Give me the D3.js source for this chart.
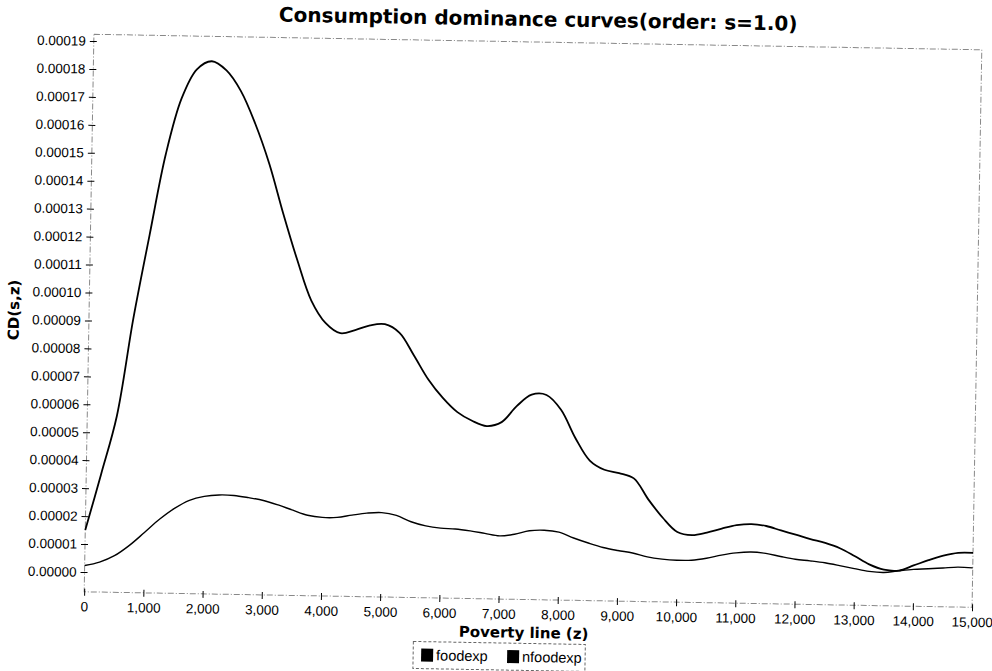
<!DOCTYPE html>
<html>
<head>
<meta charset="utf-8">
<script src="https://cdn.jsdelivr.net/npm/d3@7"></script>
<style>
  body { margin: 0; background: #fff; }
  svg { display: block; }
</style>
</head>
<body>
<div id="chart"></div>
<script>
// poverty line z (x axis)
var povertyLine = [
  0, 250, 500, 750, 1000, 1250, 1500, 1750, 2000, 2250, 2500, 2750, 3000, 3250, 3500, 3750,
  4000, 4250, 4500, 4750, 5000, 5250, 5500, 5750, 6000, 6250, 6500, 6750, 7000, 7250, 7500, 7750,
  8000, 8250, 8500, 8750, 9000, 9250, 9500, 9750, 10000, 10250, 10500, 10750, 11000, 11250, 11500, 11750,
  12000, 12250, 12500, 12750, 13000, 13250, 13500, 13750, 14000, 14250, 14500, 14750, 15000
];
// CD(s,z) values, in units of 0.00001
var foodexp = [
  1.5, 3.5, 5.6, 9.1, 12.1, 15.0, 17.0, 18.05, 18.35, 18.03, 17.3, 16.15, 14.72, 12.95, 11.3, 9.85,
  9.05, 8.7, 8.82, 9.0, 9.05, 8.75, 7.95, 7.1, 6.45, 5.95, 5.65, 5.47, 5.62, 6.2, 6.62, 6.62,
  6.1, 5.1, 4.3, 3.98, 3.87, 3.69, 2.95, 2.3, 1.8, 1.7, 1.8, 1.95, 2.08, 2.13, 2.07, 1.92,
  1.78, 1.63, 1.5, 1.32, 1.05, 0.76, 0.58, 0.56, 0.75, 0.95, 1.12, 1.23, 1.24
];
var nfoodexp = [
  0.23, 0.36, 0.6, 0.98, 1.45, 1.93, 2.33, 2.63, 2.78, 2.84, 2.83, 2.76, 2.67, 2.52, 2.34, 2.17,
  2.1, 2.11, 2.2, 2.28, 2.31, 2.22, 2.0, 1.86, 1.79, 1.77, 1.71, 1.63, 1.55, 1.62, 1.75, 1.78,
  1.72, 1.52, 1.35, 1.2, 1.1, 1.02, 0.89, 0.82, 0.79, 0.8, 0.88, 1.0, 1.09, 1.13, 1.09, 0.99,
  0.9, 0.85, 0.79, 0.7, 0.6, 0.51, 0.48, 0.55, 0.61, 0.64, 0.68, 0.72, 0.7
];
var seriesNames = ["foodexp", "nfoodexp"];
var yTicks = [0, 0.00001, 0.00002, 0.00003, 0.00004, 0.00005, 0.00006, 0.00007, 0.00008, 0.00009,
  0.0001, 0.00011, 0.00012, 0.00013, 0.00014, 0.00015, 0.00016, 0.00017, 0.00018, 0.00019];
var xTicks = [0, 1000, 2000, 3000, 4000, 5000, 6000, 7000, 8000, 9000, 10000, 11000, 12000, 13000, 14000, 15000];

var W = 992, H = 671;
var plotL = 89, plotR = 977, plotT = 42, plotB = 599.6;

var svg = d3.select("#chart").append("svg")
    .attr("width", W)
    .attr("height", H);

// the scanned original sits a little tilted
var g = svg.append("g")
    .attr("transform", "rotate(1, 533, 320)");

var x = d3.scaleLinear().domain([0, 15000]).range([plotL, plotR]);
var y = d3.scaleLinear().domain([-0.0000071, 0.0001924]).range([plotB, plotT]);

// title
g.append("text")
    .attr("x", 533)
    .attr("y", 26)
    .attr("text-anchor", "middle")
    .style("font-family", "DejaVu Sans")
    .style("font-weight", "bold")
    .style("font-size", "20px")
    .text("Consumption dominance curves(order: s=1.0)");

// plot frame
g.append("rect")
    .attr("x", plotL)
    .attr("y", plotT)
    .attr("width", plotR - plotL)
    .attr("height", plotB - plotT)
    .attr("fill", "none")
    .attr("stroke", "#888")
    .attr("stroke-width", 1)
    .attr("stroke-dasharray", "6,2,1,2");

// y axis
var yAxis = g.append("g")
    .attr("transform", "translate(" + plotL + ",0)")
    .call(d3.axisLeft(y).tickValues(yTicks).tickSizeInner(4).tickSizeOuter(0).tickPadding(4)
      .tickFormat(d3.format(".5f")));
yAxis.select(".domain").remove();
yAxis.selectAll(".tick line").attr("x1", 3).attr("stroke", "#000");
yAxis.selectAll(".tick text")
    .style("font-family", "Liberation Sans, Arial")
    .style("font-size", "13.5px")
    .attr("fill", "#000");

// x axis
var xAxis = g.append("g")
    .attr("transform", "translate(0," + plotB + ")")
    .call(d3.axisBottom(x).tickValues(xTicks).tickSizeInner(4).tickSizeOuter(0).tickPadding(6)
      .tickFormat(d3.format(",")));
xAxis.select(".domain").remove();
xAxis.selectAll(".tick line").attr("y1", -3).attr("stroke", "#000");
xAxis.selectAll(".tick text")
    .style("font-family", "Liberation Sans, Arial")
    .style("font-size", "13.5px")
    .attr("fill", "#000");

// axis titles
g.append("text")
    .attr("x", 529)
    .attr("y", 638)
    .attr("text-anchor", "middle")
    .style("font-family", "DejaVu Sans")
    .style("font-weight", "bold")
    .style("font-size", "15px")
    .text("Poverty line (z)");

g.append("text")
    .attr("transform", "translate(19,319) rotate(-90)")
    .attr("text-anchor", "middle")
    .style("font-family", "DejaVu Sans")
    .style("font-weight", "bold")
    .style("font-size", "15px")
    .text("CD(s,z)");

// curves
var line = d3.line()
    .x(function(d) { return x(d[0]); })
    .y(function(d) { return y(d[1] * 0.00001); })
    .curve(d3.curveCatmullRom.alpha(0.5));

var series = [foodexp, nfoodexp];
var widths = [1.8, 1.4];
series.forEach(function(vals, i) {
  g.append("path")
      .datum(povertyLine.map(function(z, j) { return [z, vals[j]]; }))
      .attr("d", line)
      .attr("fill", "none")
      .attr("stroke", "#000")
      .attr("stroke-width", widths[i]);
});

// legend
var legend = g.append("g").attr("transform", "translate(419,643.5)");
legend.append("rect")
    .attr("width", 172)
    .attr("height", 27)
    .attr("fill", "none")
    .attr("stroke", "#666")
    .attr("stroke-dasharray", "3,2");
var legendX = [8, 94];
seriesNames.forEach(function(name, i) {
  legend.append("rect")
      .attr("x", legendX[i])
      .attr("y", 7)
      .attr("width", 12)
      .attr("height", 13)
      .attr("fill", "#000");
  legend.append("text")
      .attr("x", legendX[i] + 15)
      .attr("y", 18.5)
      .style("font-family", "Liberation Sans, Arial")
      .style("font-size", "14.5px")
      .text(name);
});
</script>
</body>
</html>
